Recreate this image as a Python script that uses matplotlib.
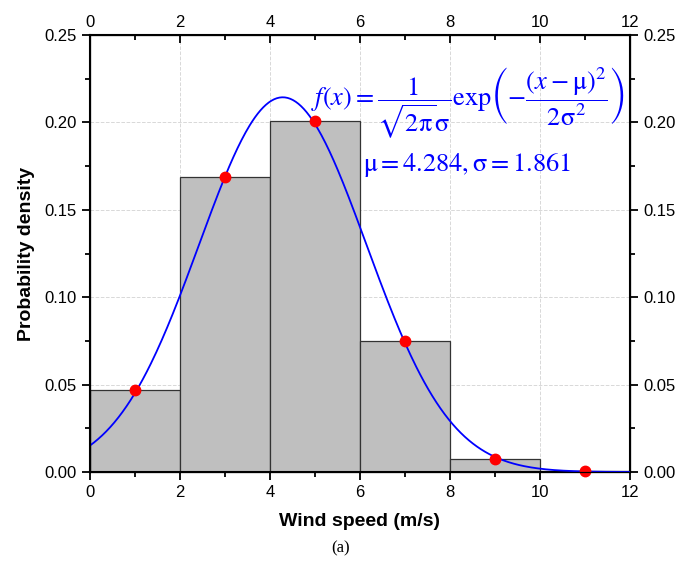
import numpy as np
import matplotlib.pyplot as plt

plt.rcParams['font.family'] = ['Liberation Sans', 'DejaVu Sans']
plt.rcParams['mathtext.fontset'] = 'stix'

# --- Data -------------------------------------------------------------------
bin_edges = [0, 2, 4, 6, 8, 10, 12]
bin_density = [0.047, 0.169, 0.201, 0.075, 0.0075, 0.0004]
point_x = [1, 3, 5, 7, 9, 11]
point_y = [0.047, 0.169, 0.201, 0.075, 0.0075, 0.0004]
MU = 4.284
SIGMA = 1.861

fig = plt.figure(figsize=(6.75, 5.61), dpi=100)
ax = fig.add_axes([0.1333, 0.1586, 0.8, 0.779])

lefts = np.array(bin_edges[:-1])
widths = np.diff(bin_edges)
ax.bar(lefts, bin_density, width=widths, align="edge", color="#bfbfbf",
       edgecolor="#333333", lw=0.9, zorder=2)

xs = np.linspace(0, 12, 400)
pdf = np.exp(-(xs - MU) ** 2 / (2 * SIGMA ** 2)) / (np.sqrt(2 * np.pi) * SIGMA)
ax.plot(xs, pdf, color="#0000ff", lw=1.3, zorder=3)
ax.plot(point_x, point_y, "o", color="#ff0000", ms=7.5, zorder=4, clip_on=False)

ax.set_xlim(0, 12); ax.set_ylim(0, 0.25)
ax.set_xticks(np.arange(0, 13, 2))
ax.set_xticks(np.arange(1, 12, 2), minor=True)
ax.set_yticks(np.arange(0, 0.26, 0.05))
ax.set_yticks(np.arange(0.025, 0.25, 0.05), minor=True)
ax.set_yticklabels([f"{v:.2f}" for v in np.arange(0, 0.26, 0.05)])
ax.grid(True, which="major", color="#d8d8d8", ls="--", lw=0.7, zorder=0)
ax.set_axisbelow(True)
for sp in ax.spines.values():
    sp.set_linewidth(1.5)
ax.tick_params(which="both", direction="out", labelsize=12, width=1.3,
               top=False, right=False)
ax.tick_params(which="major", length=6)
ax.tick_params(which="minor", length=3.5)
ax.set_xlabel("Wind speed (m/s)", fontsize=14, fontweight="bold", labelpad=9)
ax.set_ylabel("Probability density", fontsize=14, fontweight="bold", labelpad=7)

# twin axes for top and right tick labels
axt = ax.twiny()
axt.set_xlim(0, 12)
axt.set_xticks(np.arange(0, 13, 2))
axt.set_xticks(np.arange(1, 12, 2), minor=True)
axt.tick_params(which="both", direction="in", labelsize=12, width=1.3)
axt.tick_params(which="major", length=6)
axt.tick_params(which="minor", length=3.5)
axr = ax.twinx()
axr.set_ylim(0, 0.25)
axr.set_yticks(np.arange(0, 0.26, 0.05))
axr.set_yticks(np.arange(0.025, 0.25, 0.05), minor=True)
axr.set_yticklabels([f"{v:.2f}" for v in np.arange(0, 0.26, 0.05)])
axr.tick_params(which="both", direction="out", labelsize=12, width=1.3)
axr.tick_params(which="major", length=6)
axr.tick_params(which="minor", length=3.5)

ax.text(0.41, 0.845,
        r"$f(x)=\dfrac{1}{\sqrt{2\mathrm{π}}\mathrm{σ}}\mathrm{exp}"
        r"\left(-\dfrac{(x-\mathrm{μ})^2}{2\mathrm{σ}^2}\right)$",
        transform=ax.transAxes, color="#0000ff", fontsize=19, va="center")
ax.text(0.505, 0.703, r"$\mathrm{μ}=4.284,\mathrm{σ}=1.861$",
        transform=ax.transAxes, color="#0000ff", fontsize=19, va="center")

fig.text(0.504, 0.023, "(a)", fontsize=12, family="Liberation Serif",
         ha="center", va="center")

fig.savefig("out.png", dpi=100)
